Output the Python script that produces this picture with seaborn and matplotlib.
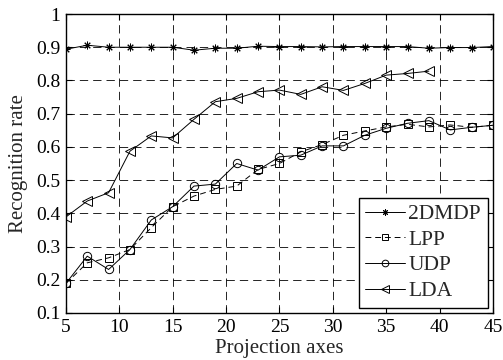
import numpy as np
import pandas as pd
import matplotlib
matplotlib.use("Agg")
import matplotlib.pyplot as plt
import seaborn as sns

x_all = [5, 7, 9, 11, 13, 15, 17, 19, 21, 23, 25, 27, 29, 31, 33, 35, 37, 39, 41, 43, 45]
x_lda = [5, 7, 9, 11, 13, 15, 17, 19, 21, 23, 25, 27, 29, 31, 33, 35, 37, 39]

mdp = [0.894, 0.906, 0.900, 0.900, 0.900, 0.900, 0.891, 0.897, 0.897, 0.903, 0.902,
       0.902, 0.901, 0.902, 0.902, 0.902, 0.902, 0.897, 0.899, 0.899, 0.902]
lpp = [0.189, 0.251, 0.266, 0.291, 0.357, 0.420, 0.452, 0.472, 0.482, 0.532, 0.550,
       0.585, 0.607, 0.635, 0.648, 0.660, 0.668, 0.660, 0.666, 0.659, 0.665]
udp = [0.189, 0.271, 0.231, 0.291, 0.380, 0.420, 0.482, 0.488, 0.550, 0.530, 0.570,
       0.575, 0.603, 0.603, 0.635, 0.656, 0.671, 0.679, 0.651, 0.659, 0.665]
lda = [0.389, 0.437, 0.462, 0.587, 0.633, 0.627, 0.683, 0.736, 0.746, 0.766, 0.771,
       0.758, 0.781, 0.770, 0.791, 0.816, 0.821, 0.828]

names = ["2DMDP", "LPP", "UDP", "LDA"]

sns.set_style("ticks")
plt.rcParams['font.family'] = ['Liberation Serif', 'DejaVu Serif']

fig = plt.figure(figsize=(5.03, 3.60), dpi=100)
ax = fig.add_axes([0.131, 0.1306, 0.849, 0.8305])

series = [
    (x_all, mdp, dict(marker=(8, 2, 0), linestyle='-', markersize=5.5)),
    (x_all, lpp, dict(marker='s', linestyle=(0, (6, 4)), markersize=5.2)),
    (x_all, udp, dict(marker='o', linestyle='-', markersize=6)),
    (x_lda, lda, dict(marker='<', linestyle='-', markersize=6.5)),
]
for (xs, ys, st), name in zip(series, names):
    sns.lineplot(x=xs, y=ys, ax=ax, color='black', linewidth=0.7,
                 marker=st['marker'], linestyle=st['linestyle'],
                 markersize=st['markersize'], markerfacecolor='none',
                 markeredgecolor='black', markeredgewidth=0.7, label=name)

ax.set_xlim(5, 45)
ax.set_ylim(0.1, 1.0)
ax.set_xticks(np.arange(5, 46, 5))
ax.set_yticks(np.round(np.arange(0.1, 1.01, 0.1), 1))
ax.set_yticklabels(['0.1', '0.2', '0.3', '0.4', '0.5', '0.6', '0.7', '0.8', '0.9', '1'])
ax.grid(True, color='black', linestyle=(0, (10, 6)), linewidth=0.6)
for s in ax.spines.values():
    s.set_visible(True)
    s.set_color('black')
    s.set_linewidth(1.0)
ax.tick_params(direction='in', length=4, width=0.8, top=True, right=True,
               labelsize=14, colors='black', pad=4)
ax.set_xlabel("Projection axes", fontsize=15, labelpad=2.5)
ax.set_ylabel("Recognition rate", fontsize=15, labelpad=6)

leg = ax.legend(loc='lower right', fontsize=15.5, frameon=True, fancybox=False,
                edgecolor='black', framealpha=1, borderpad=0.3, handlelength=1.85,
                handletextpad=0.15, labelspacing=0.26, borderaxespad=0.25,
                markerscale=0.8)
leg.get_frame().set_linewidth(1.0)

fig.savefig("out.png", dpi=100)
